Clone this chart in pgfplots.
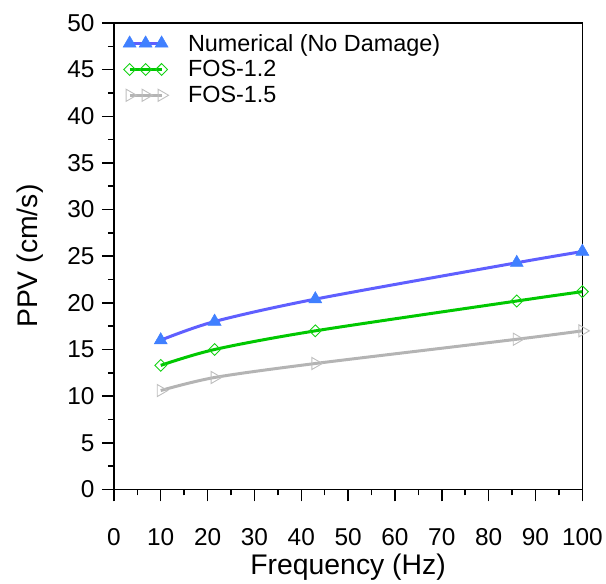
\documentclass[border=0pt]{standalone}
\usepackage{pgfplots}
\pgfplotsset{compat=1.18}
\usepackage{fontspec}
\setmainfont{Liberation Sans}
\definecolor{bline}{RGB}{95,95,255}
\definecolor{bmark}{RGB}{64,128,255}
\definecolor{gline}{RGB}{0,200,0}
\definecolor{gmark}{RGB}{20,210,20}
\definecolor{hline}{RGB}{180,180,180}
\definecolor{hmark}{RGB}{190,190,190}
\begin{document}
\begin{tikzpicture}
\begin{axis}[
  name=ax,
  scale only axis,
  width=469bp, height=467bp,
  xmin=0, xmax=100, ymin=0, ymax=50,
  xtick={0,10,...,100}, ytick={0,5,...,50},
  minor x tick num=1, minor y tick num=1,
  xtick pos=bottom, ytick pos=left,
  tick align=outside,
  major tick length=12bp, minor tick length=6bp,
  axis line style={line width=1.5bp},
  every tick/.style={line width=1.5bp, black},
  /pgf/number format/assume math mode=true,
  ticklabel style={font=\fontsize{24.5}{28}\selectfont},
  xticklabel style={yshift=-24bp},
  yticklabel style={xshift=-4bp},
  xlabel={Frequency (Hz)}, ylabel={PPV (cm/s)},
  label style={font=\fontsize{28.5}{33}\selectfont},
  xlabel style={at={(axis description cs:0.5,0)}, anchor=center, yshift=-78bp},
  ylabel style={at={(axis description cs:0,0.5)}, anchor=center, yshift=84bp},
  legend style={at={(0.013,0.985)}, anchor=north west, draw=none, fill=none,
    font=\fontsize{23.5}{27}\selectfont, row sep=4bp,
    legend cell align=left},
  legend image code/.code={\draw plot coordinates {(0bp,0bp) (16bp,0bp) (32bp,0bp)}; \path (55bp,0bp);},
]
\addplot[smooth, color=bline, line width=3bp, mark=triangle*, mark size=7.5bp,
  mark options={fill=bmark, draw=bmark, line width=0.5bp}]
  coordinates {(10,16.0) (21.5,18.0) (43,20.4) (86,24.3) (100,25.5)};
\addlegendentry{Numerical (No Damage)}
\addplot[smooth, color=gline, line width=3bp, mark=square, mark size=4.2bp,
  mark options={rotate=45, fill=white, draw=gmark, line width=0.9bp}]
  coordinates {(10,13.3) (21.5,15.0) (43,17.0) (86,20.2) (100,21.2)};
\addlegendentry{FOS-1.2}
\addplot[smooth, color=hline, line width=3bp, mark=triangle, mark size=7bp,
  mark options={rotate=-90, fill=white, draw=hmark, line width=0.9bp}]
  coordinates {(10,10.6) (21.5,12.0) (43,13.5) (86,16.1) (100,17.0)};
\addlegendentry{FOS-1.5}
\end{axis}
\path ([shift={(-114bp,-93bp)}]ax.south west) rectangle ([shift={(23bp,23bp)}]ax.north east);
\end{tikzpicture}
\end{document}
